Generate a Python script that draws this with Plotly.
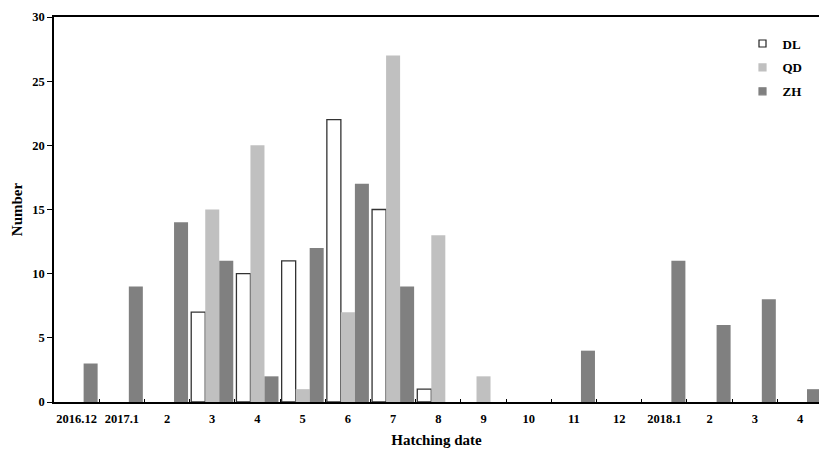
import plotly.graph_objects as go

categories = ["2016.12", "2017.1", "2", "3", "4", "5", "6", "7", "8", "9", "10", "11", "12",
              "2018.1", "2 ", "3 ", "4 "]
dl = [0, 0, 0, 7, 10, 11, 22, 15, 1, 0, 0, 0, 0, 0, 0, 0, 0]
qd = [0, 0, 0, 15, 20, 1, 7, 27, 13, 2, 0, 0, 0, 0, 0, 0, 0]
zh = [3, 9, 14, 11, 2, 12, 17, 9, 0, 0, 0, 4, 0, 11, 6, 8, 1]
y_ticks = [0, 5, 10, 15, 20, 25, 30]

FONT = "Liberation Serif"
BOLD = dict(family=FONT, color="black", weight="bold")

def nz(vals):
    return [v if v != 0 else None for v in vals]

fig = go.Figure()
fig.add_trace(go.Bar(name="DL", x=categories, y=nz(dl), showlegend=False,
                     marker=dict(color="white", line=dict(color="#333333", width=1.3))))
fig.add_trace(go.Bar(name="QD", x=categories, y=nz(qd), showlegend=False,
                     marker=dict(color="#c0c0c0", line=dict(width=0))))
fig.add_trace(go.Bar(name="ZH", x=categories, y=nz(zh), showlegend=False,
                     marker=dict(color="#808080", line=dict(width=0))))

# legend entries with small square markers
for nm, fill, ln in [("DL", "white", "#222222"), ("QD", "#c0c0c0", "#c0c0c0"), ("ZH", "#808080", "#808080")]:
    fig.add_trace(go.Scatter(name=nm, x=[None], y=[None], mode="markers", legendgroup=nm,
                             marker=dict(symbol="square", size=7, color=fill,
                                         line=dict(color=ln, width=1.2))))

fig.update_layout(
    width=819, height=450,
    margin=dict(l=54, r=0, t=17, b=48, autoexpand=False),
    paper_bgcolor="white", plot_bgcolor="white",
    barmode="group", bargap=0.07, bargroupgap=0,
    font=dict(family=FONT, color="black", size=13),
    showlegend=True,
    legend=dict(x=0.9, y=0.97, xanchor="left", yanchor="top",
                bgcolor="rgba(0,0,0,0)", itemwidth=30, tracegroupgap=4,
                font=dict(size=13, **BOLD)),
    xaxis=dict(
        type="category", range=[-0.5, 16.42],
        showline=True, linecolor="black", linewidth=1.5, mirror=True,
        ticks="inside", ticklen=3, tickcolor="black", tickson="boundaries",
        tickfont=dict(size=12.5, **BOLD), tickangle=0, automargin=False,
        ticklabelstandoff=4,
        tickvals=categories,
        ticktext=[c.strip() for c in categories],
        title=dict(text="Hatching date", font=dict(size=15, **BOLD), standoff=10),
        showgrid=False, zeroline=False,
    ),
    yaxis=dict(
        range=[0, 30], tickvals=y_ticks,
        ticktext=[str(v) for v in y_ticks],
        showline=True, linecolor="black", linewidth=1.5,
        ticks="outside", ticklen=5, tickcolor="black", automargin=False,
        tickfont=dict(size=12.5, **BOLD),
        title=dict(text="Number", font=dict(size=15, **BOLD), standoff=6),
        showgrid=False, zeroline=False,
    ),
)

fig.write_html("out.html")
